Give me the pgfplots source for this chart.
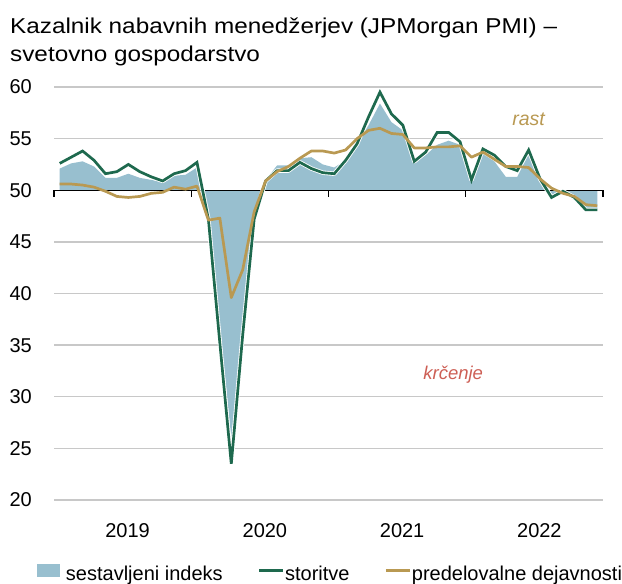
\documentclass[border=0pt]{standalone}
\usepackage{fontspec}
\setmainfont{Liberation Sans}
\newfontfamily\titlefont[FakeStretch=1.13]{Liberation Sans}
\usepackage{pgfplots}
\pgfplotsset{compat=1.18}
\usepgfplotslibrary{fillbetween}
\usepackage{pgfplotstable}

\definecolor{areacol}{RGB}{152,191,207}
\definecolor{servcol}{RGB}{30,105,78}
\definecolor{manucol}{RGB}{185,153,82}
\definecolor{gridcol}{RGB}{200,200,200}
\definecolor{redtxt}{RGB}{205,95,85}

\pgfplotstableread{
k comp serv manu
0  52.1  52.6  50.6
1  52.6  53.2  50.6
2  52.8  53.8  50.5
3  52.3  52.9  50.3
4  51.2  51.6  49.9
5  51.2  51.8  49.4
6  51.6  52.5  49.3
7  51.2  51.8  49.4
8  51.0  51.3  49.7
9  50.8  50.9  49.8
10 51.4  51.6  50.3
11 51.5  51.9  50.1
12 52.2  52.7  50.4
13 46.3  47.2  47.1
14 37.0  35.2  47.3
15 26.0  23.5  39.6
16 36.3  36.0  42.3
17 47.8  47.2  47.9
18 51.0  50.9  50.9
19 52.4  51.9  51.8
20 52.4  51.9  52.3
21 53.1  52.7  53.1
22 53.2  52.1  53.8
23 52.5  51.7  53.8
24 52.2  51.6  53.6
25 52.9  52.9  53.9
26 54.5  54.5  55.0
27 56.3  57.1  55.8
28 58.4  59.5  56.0
29 56.6  57.4  55.5
30 55.8  56.3  55.4
31 52.6  52.8  54.1
32 53.4  53.7  54.1
33 54.4  55.6  54.2
34 54.8  55.6  54.2
35 54.4  54.7  54.3
36 51.1  51.0  53.2
37 53.5  54.0  53.7
38 52.8  53.4  53.0
39 51.3  52.3  52.3
40 51.3  51.9  52.3
41 53.5  53.9  52.2
42 50.8  51.1  51.1
43 49.3  49.3  50.2
44 50.0  49.9  49.7
45 49.0  49.3  49.4
46 48.3  48.1  48.6
47 48.2  48.1  48.5
}\pmi

\begin{document}
\begin{tikzpicture}
\begin{axis}[
  scale only axis, width=549pt, height=413pt,
  xmin=-0.5, xmax=47.5, ymin=20, ymax=60,
  axis line style={draw=none},
  tick style={draw=none},
  ytick={20,25,30,35,40,45,55,60},
  extra y ticks={50}, extra y tick style={grid=none},
  ymajorgrids, grid style={gridcol, line width=1.3pt},
  xtick={5.5,17.5,29.5,41.5},
  xticklabels={2019,2020,2021,2022},
  /pgf/number format/assume math mode=true,
  tick label style={font=\fontsize{20}{24}\selectfont},
  yticklabel style={anchor=east, inner sep=0pt, xshift=-22pt},
  xticklabel style={anchor=north, inner sep=0pt, yshift=-23pt, xshift=5pt},
  clip=false,
  legend columns=3,
  legend cell align=left,
  legend style={draw=none, fill=none, inner sep=0pt, outer sep=0pt,
    font=\fontsize{20}{24}\selectfont,
    nodes={inner sep=0pt},
    /tikz/every even column/.append style={column sep=35pt},
    at={(-0.031,-0.1787)}, anchor=west},
]
\addplot[name path=comp, draw=none, forget plot] table[x=k,y=comp]{\pmi};
\addplot[name path=base, draw=none, forget plot] coordinates {(0,50) (47,50)};
\addplot[fill=areacol, draw=none, forget plot] fill between[of=comp and base];

\draw[black, line width=1.2pt] (axis cs:-0.5,50) -- (axis cs:47.5,50);
\draw[black, line width=1.2pt] (axis cs:-0.5,50) -- ([yshift=-7pt]axis cs:-0.5,50);
\draw[black, line width=1.2pt] (axis cs:11.5,50) -- ([yshift=-7pt]axis cs:11.5,50);
\draw[black, line width=1.2pt] (axis cs:23.5,50) -- ([yshift=-7pt]axis cs:23.5,50);
\draw[black, line width=1.2pt] (axis cs:35.5,50) -- ([yshift=-7pt]axis cs:35.5,50);
\draw[black, line width=1.2pt] (axis cs:47.5,50) -- ([yshift=-7pt]axis cs:47.5,50);

\addplot[white, line width=4.4pt, line join=round, forget plot] table[x=k,y=serv]{\pmi};
\addplot[servcol, line width=2.7pt, line join=miter, forget plot] table[x=k,y=serv]{\pmi};
\addplot[manucol, line width=2.7pt, line join=round, forget plot] table[x=k,y=manu]{\pmi};

\addlegendimage{legend image code/.code={\path[draw=none,fill=none] (0pt,-10pt) rectangle (29pt,10pt); \path[fill=areacol,draw=none] (0pt,-3.5pt) rectangle (23pt,9.5pt);}}
\addlegendentry{sestavljeni indeks}
\addlegendimage{legend image code/.code={\path[draw=none,fill=none] (0pt,-10pt) rectangle (26pt,10pt); \path[draw=servcol, line width=2.7pt] (0pt,3pt) -- (24pt,3pt);}}
\addlegendentry{storitve}
\addlegendimage{legend image code/.code={\path[draw=none,fill=none] (0pt,-10pt) rectangle (26pt,10pt); \path[draw=manucol, line width=2.7pt] (0pt,3pt) -- (24pt,3pt);}}
\addlegendentry{predelovalne dejavnosti}

\node[anchor=base, font=\itshape\fontsize{19.5}{23}\selectfont, text=manucol, inner sep=0pt] at (axis cs:41.0,56.3) {rast};
\node[anchor=base, font=\itshape\fontsize{18.5}{22}\selectfont, text=redtxt, inner sep=0pt] at (axis cs:34.4,31.7) {krčenje};
\end{axis}
\node[anchor=base west, font=\titlefont\fontsize{21.5}{25}\selectfont, inner sep=0pt] at ([xshift=-44pt, yshift=53.7pt]current axis.north west) {Kazalnik nabavnih menedžerjev (JPMorgan PMI) –};
\node[anchor=base west, font=\titlefont\fontsize{21.5}{25}\selectfont, inner sep=0pt] at ([xshift=-44pt, yshift=25.3pt]current axis.north west) {svetovno gospodarstvo};
\pgfresetboundingbox
\path[use as bounding box] ([xshift=-54pt, yshift=87pt]current axis.north west) rectangle ([xshift=19pt, yshift=-84pt]current axis.south east);
\end{tikzpicture}
\end{document}
